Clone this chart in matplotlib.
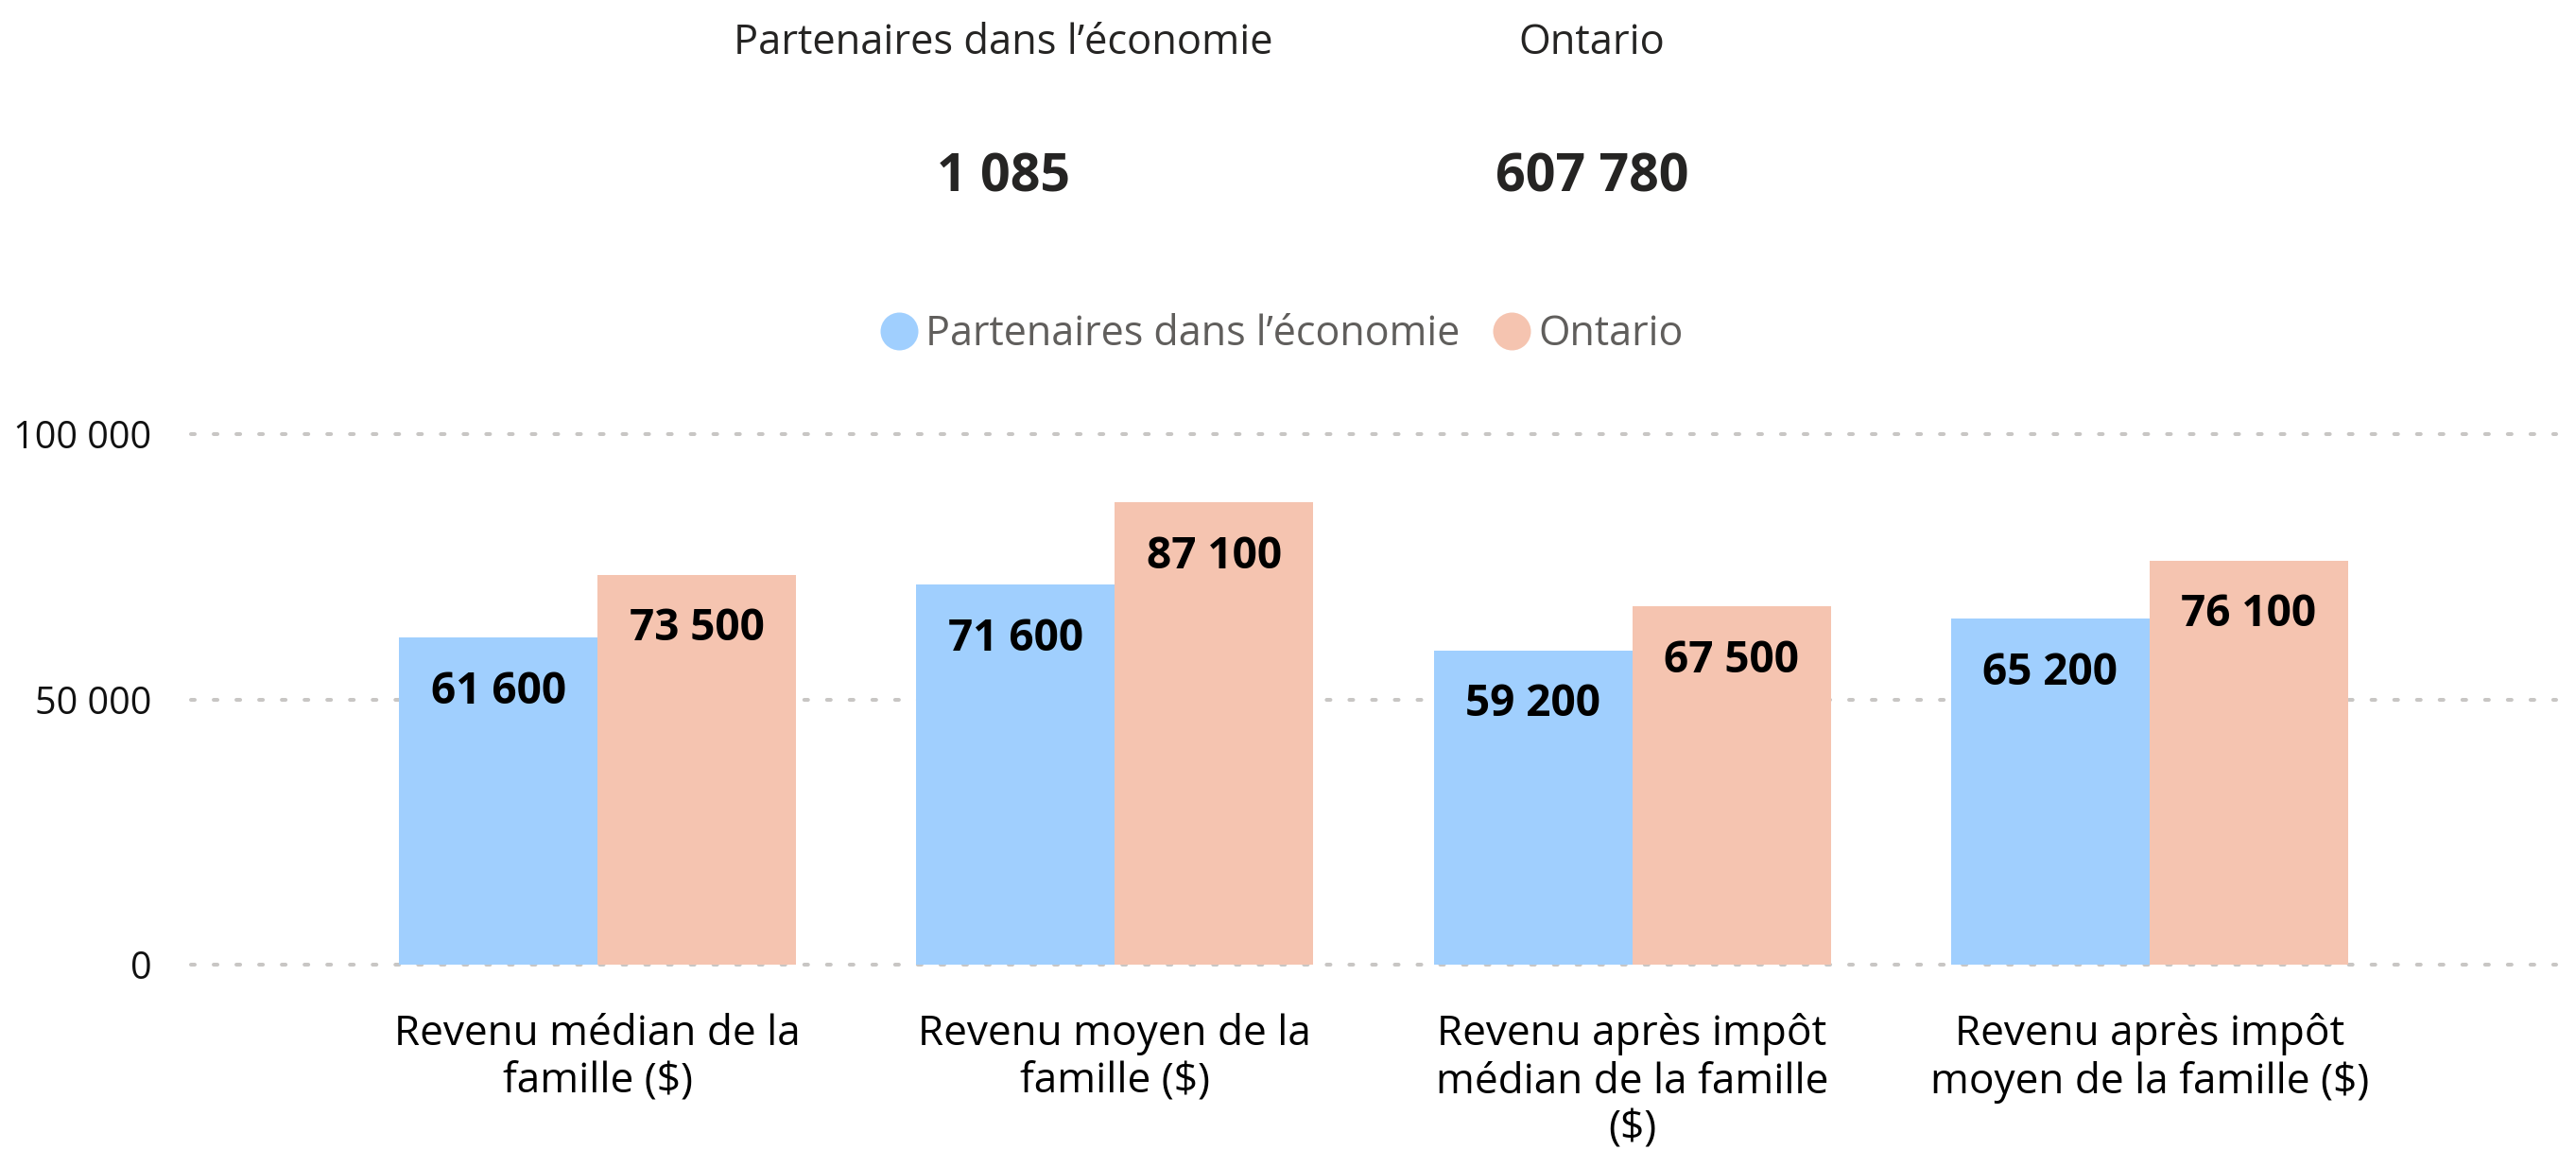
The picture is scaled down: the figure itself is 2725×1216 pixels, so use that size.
import numpy as np
import matplotlib
matplotlib.use("Agg")
import matplotlib.pyplot as plt
from matplotlib.lines import Line2D
from matplotlib.ticker import FuncFormatter

# revenus des familles, deux groupes
categories = [
    "Revenu médian de la\nfamille ($)",
    "Revenu moyen de la\nfamille ($)",
    "Revenu après impôt\nmédian de la famille\n($)",
    "Revenu après impôt\nmoyen de la famille ($)",
]
series_names = ["Partenaires dans l’économie", "Ontario"]
partenaires = [61600, 71600, 59200, 65200]
ontario = [73500, 87100, 67500, 76100]

# effectifs affichés en en-tête
header_counts = [1085, 607780]

y_ticks = [0, 50000, 100000]

BLUE = "#A0CFFE"
ORANGE = "#F5C4B0"
TXT = "#252423"


def fmt(v):
    return f"{int(v):,}".replace(",", " ")


plt.rcParams["font.family"] = ["Open Sans", "DejaVu Sans"]
plt.rcParams["lines.scale_dashes"] = False

W, H = 2725, 1216
fig = plt.figure(figsize=(W / 100, H / 100), dpi=100)
ax = fig.add_axes([202 / W, 196 / H, (2704 - 202) / W, 561 / H])

x = np.arange(len(categories))
w = 0.3837
b1 = ax.bar(x - w / 2, partenaires, w, color=BLUE, zorder=2)
b2 = ax.bar(x + w / 2, ontario, w, color=ORANGE, zorder=2)

for bars, vals in ((b1, partenaires), (b2, ontario)):
    for rect, v in zip(bars, vals):
        ax.annotate(fmt(v), (rect.get_x() + rect.get_width() / 2, v),
                    xytext=(0, -24), textcoords="offset points",
                    ha="center", va="top", fontsize=33, fontweight="bold",
                    color="black", zorder=3)

ax.set_xlim(-0.786, 3.786)
ax.set_ylim(0, 100000)
ax.set_yticks(y_ticks)
ax.yaxis.set_major_formatter(FuncFormatter(lambda v, p: fmt(v)))
ax.set_xticks(x, categories, fontsize=31.8, linespacing=1.17, color="black")
ax.tick_params(axis="y", length=0, pad=30, labelsize=28.5, labelcolor="#111111")
ax.tick_params(axis="x", length=0, pad=37)

ax.set_axisbelow(True)
ax.grid(axis="y", color="#C8C6C4", linewidth=2.9, linestyle=(0, (2.9, 14.4)))
for gl in ax.yaxis.get_gridlines():
    gl.set_dash_capstyle("round")
    gl.set_clip_on(False)
for s in ax.spines.values():
    s.set_visible(False)

# en-tête : noms et effectifs
for xc, name, n in zip((0.3894, 0.618), series_names, header_counts):
    fig.text(xc, 0.9531, name, ha="center", va="baseline", fontsize=31.3, color=TXT)
    fig.text(xc, 0.8331, fmt(n), ha="center", va="baseline", fontsize=40,
             fontweight="bold", color=TXT)

handles = [Line2D([], [], marker="o", linestyle="", markersize=28.8,
                  markerfacecolor=c, markeredgecolor="none")
           for c in (BLUE, ORANGE)]
fig.legend(handles, series_names, loc="center", bbox_to_anchor=(0.4976, 0.7088),
           ncol=2, frameon=False, fontsize=31, labelcolor="#605E5C",
           handlelength=0.9, handletextpad=0.2, columnspacing=0.84,
           borderpad=0, borderaxespad=0)

fig.savefig("out.png", dpi=100)
